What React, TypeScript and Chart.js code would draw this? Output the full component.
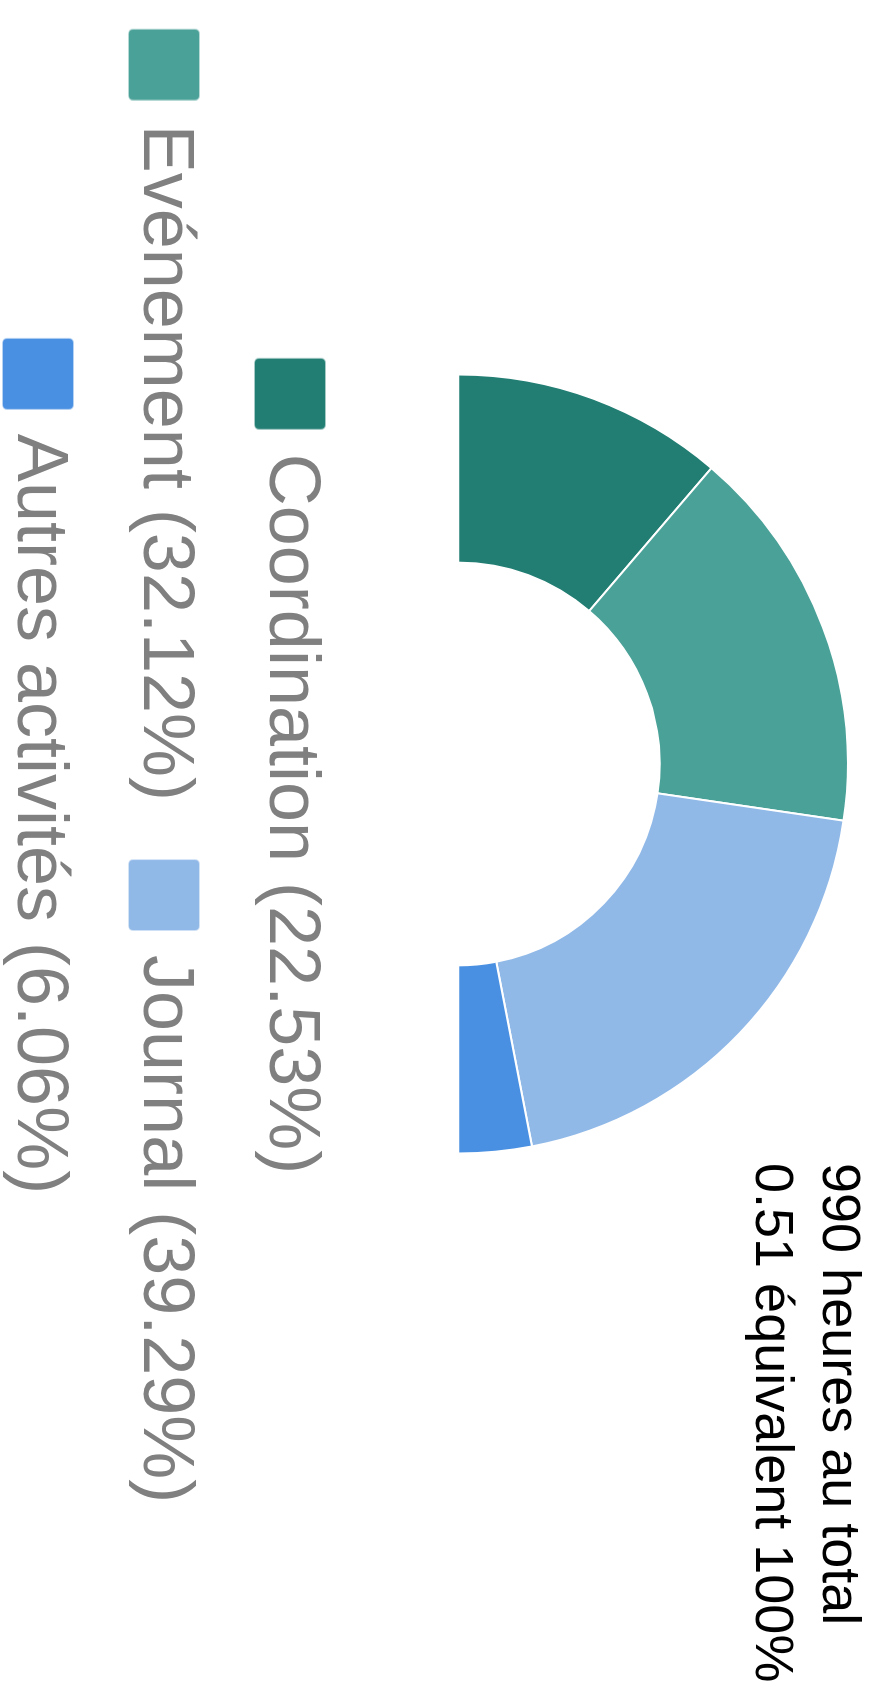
import React, { useEffect, useRef } from "react";
import { Chart, registerables, DoughnutController } from "chart.js";

Chart.register(...registerables);

const categories = ["Coordination", "Evénement", "Journal", "Autres activités"];
const percents = [22.53, 32.12, 39.29, 6.06];
const colors = ["#227E73", "#4AA198", "#91B9E8", "#4A90E2"];
const titleLines = ["990 heures au total", "0.51 équivalent 100%"];

const FONT = "'Liberation Sans', Arial, Helvetica, sans-serif";

function makeSwatch(color: string): HTMLCanvasElement {
  const c = document.createElement("canvas");
  c.width = 88;
  c.height = 72;
  const g = c.getContext("2d")!;
  const x = 16, y = 0, w = 72, h = 72, r = 5;
  g.beginPath();
  g.moveTo(x + r, y);
  g.lineTo(x + w - r, y);
  g.arcTo(x + w, y, x + w, y + r, r);
  g.lineTo(x + w, y + h - r);
  g.arcTo(x + w, y + h, x + w - r, y + h, r);
  g.lineTo(x + r, y + h);
  g.arcTo(x, y + h, x, y + h - r, r);
  g.lineTo(x, y + r);
  g.arcTo(x, y, x + r, y, r);
  g.closePath();
  g.fillStyle = color;
  g.fill();
  g.lineWidth = 2;
  g.strokeStyle = "rgba(255,255,255,0.6)";
  g.stroke();
  return c;
}

export default function App() {
  const ref = useRef<HTMLCanvasElement | null>(null);

  useEffect(() => {
    if (!ref.current) return;
    const labels = categories.map((c, i) => `${c} (${percents[i].toFixed(2)}%)`);
    const swatches = colors.map(makeSwatch);
    const baseGen = (DoughnutController as any).overrides.plugins.legend.labels.generateLabels;
    const chart = new Chart(ref.current, {
      type: "doughnut",
      data: {
        labels,
        datasets: [
          {
            data: percents,
            backgroundColor: colors,
            borderColor: "#ffffff",
            borderWidth: 2,
          },
        ],
      },
      options: {
        responsive: false,
        maintainAspectRatio: false,
        animation: false,
        rotation: -90,
        circumference: 180,
        cutout: "51.7%",
        radius: 389.5,
        layout: { padding: 0 },
        plugins: {
          tooltip: { enabled: false },
          title: { display: false },
          legend: {
            position: "bottom",
            labels: {
              usePointStyle: true,
              pointStyleWidth: 64,
              boxWidth: 72,
              boxHeight: 72,
              padding: 54,
              color: "#808080",
              font: { size: 72, family: FONT },
              generateLabels: (c: any) =>
                baseGen(c).map((l: any, i: number) => ({ ...l, pointStyle: swatches[i] })),
            },
          },
        },
      } as any,
    });
    return () => chart.destroy();
  }, []);

  return (
    <div
      style={{
        position: "absolute",
        left: 0,
        top: 0,
        width: 889,
        height: 1684,
        overflow: "hidden",
        background: "#ffffff",
      }}
    >
      <div
        style={{
          position: "absolute",
          left: 0,
          top: 0,
          width: 1684,
          height: 889,
          transformOrigin: "0 0",
          transform: "translate(889px, 0px) rotate(90deg)",
        }}
      >
        <canvas
          ref={ref}
          width={1684}
          height={934}
          style={{ position: "absolute", left: -78, top: -37, width: 1684, height: 934 }}
        />
        <div
          style={{
            position: "absolute",
            left: 1163,
            top: 14,
            fontFamily: FONT,
            fontSize: 54,
            lineHeight: "67px",
            color: "#000000",
            whiteSpace: "nowrap",
            textAlign: "left",
          }}
        >
          {titleLines.map((t, i) => (
            <div key={i}>{t}</div>
          ))}
        </div>
      </div>
    </div>
  );
}
